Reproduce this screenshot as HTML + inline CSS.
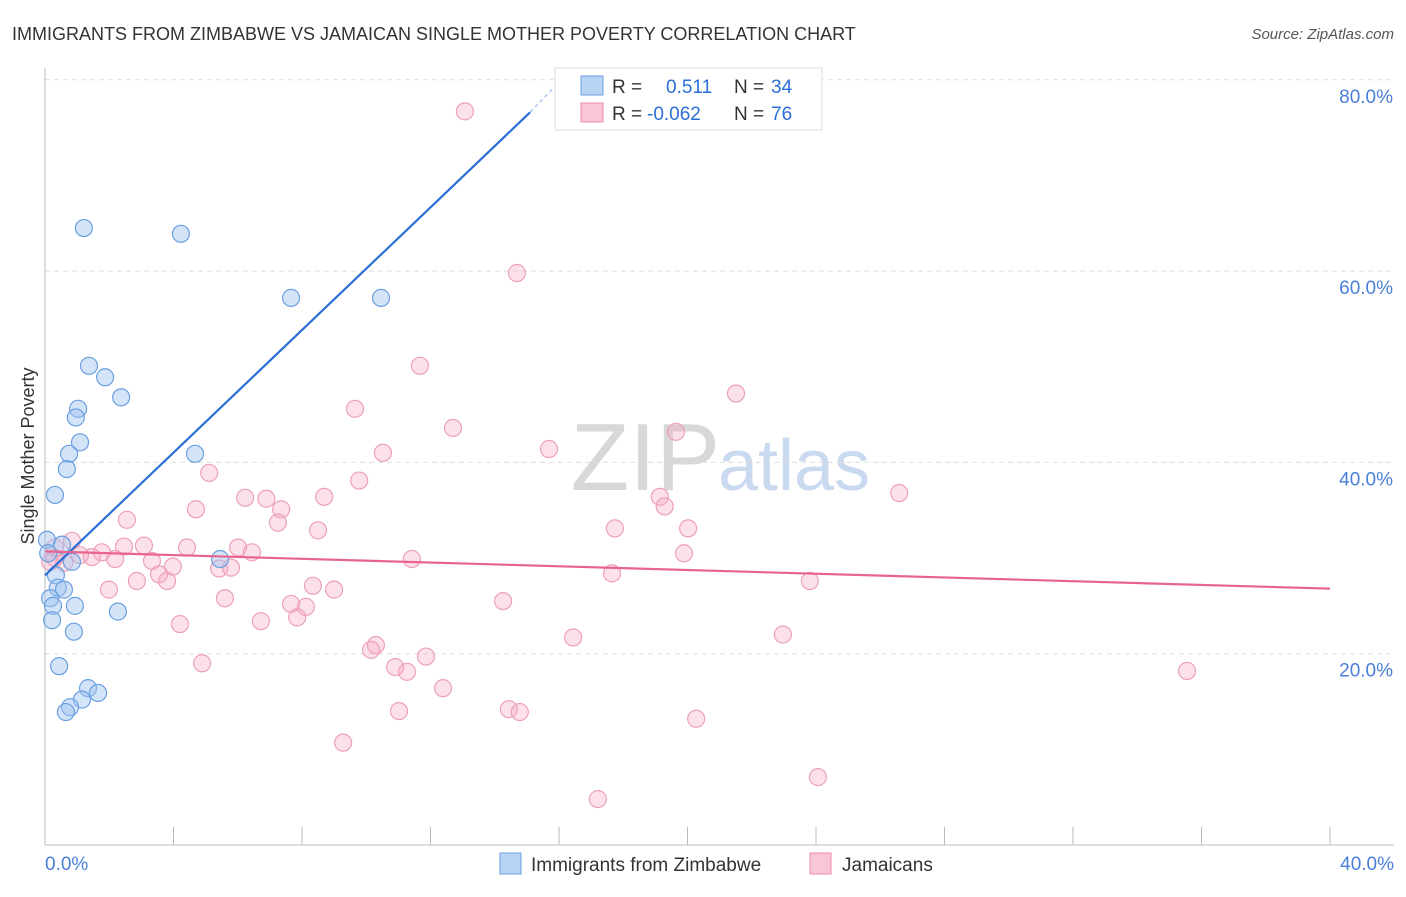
<!DOCTYPE html>
<html><head><meta charset="utf-8"><style>
body{margin:0;background:#fff;font-family:"Liberation Sans",sans-serif}
svg text{font-family:"Liberation Sans",sans-serif}
</style></head><body>
<svg id="chart" width="1406" height="892">
<text x="12" y="40" font-size="18" fill="#333">IMMIGRANTS FROM ZIMBABWE VS JAMAICAN SINGLE MOTHER POVERTY CORRELATION CHART</text>
<text x="1394" y="39" font-size="15" fill="#555" font-style="italic" text-anchor="end">Source: ZipAtlas.com</text>
<text x="720" y="490" font-size="96" fill="#d8d8d8" font-family="Liberation Serif" text-anchor="end">ZIP</text>
<text x="718" y="490" font-size="72" fill="#c9d9ef">atlas</text>
<text transform="translate(34,456) rotate(-90)" font-size="18" fill="#333" text-anchor="middle">Single Mother Poverty</text>
<g id="grid"></g><g id="pts"></g><g id="lines"></g>
<g>
<rect x="555" y="68" width="267" height="62" fill="#fff" stroke="#ddd"/>
<rect x="581" y="76" width="22" height="19" fill="#b9d3f5" stroke="#6a9fe0"/>
<rect x="581" y="103" width="22" height="19" fill="#f9c6d6" stroke="#ec8aaa"/>
<text x="612" y="93" font-size="19" fill="#333">R = <tspan x="666" fill="#2b6fd6">0.511</tspan><tspan x="734" fill="#333">N = </tspan><tspan x="771" fill="#2b6fd6">34</tspan></text>
<text x="612" y="120" font-size="19" fill="#333">R = <tspan x="647" fill="#2b6fd6">-0.062</tspan><tspan x="734" fill="#333">N = </tspan><tspan x="771" fill="#2b6fd6">76</tspan></text>
</g>
<g>
<rect x="500" y="853" width="21" height="21" fill="#b9d3f5" stroke="#6a9fe0"/>
<text x="531" y="871" font-size="19" fill="#333">Immigrants from Zimbabwe</text>
<rect x="810" y="853" width="21" height="21" fill="#f9c6d6" stroke="#ec8aaa"/>
<text x="842" y="871" font-size="19" fill="#333">Jamaicans</text>
</g>
</svg>
<script>
const yTicks=[20,40,60,80];
const xTickLabels=["0.0%","40.0%"];
const blueX=[1.21,4.23,7.66,10.46,1.37,1.87,2.37,1.03,0.96,1.09,0.75,0.68,4.67,0.31,0.06,0.53,0.84,5.45,0.34,0.40,0.59,0.16,0.25,0.93,0.22,2.27,0.90,0.44,1.34,1.65,1.15,0.78,0.65,0.1];
const blueY=[64.5,63.9,57.2,57.2,50.1,48.9,46.8,45.6,44.7,42.1,40.9,39.3,40.9,36.6,31.9,31.4,29.6,29.9,28.2,26.9,26.7,25.8,25.0,25.0,23.5,24.4,22.3,18.7,16.4,15.9,15.2,14.4,13.9,30.5];
const pinkX=[13.07,14.69,11.67,21.51,9.65,12.70,19.64,15.69,10.52,5.11,9.78,26.59,19.14,6.23,6.89,8.69,4.70,7.35,19.29,2.55,7.25,17.74,20.02,8.50,0.84,0.31,2.46,3.08,4.42,6.01,6.44,19.89,1.77,1.09,1.46,2.18,11.42,3.33,0.16,3.98,5.42,5.79,3.55,17.65,3.80,2.86,23.81,8.34,9.00,1.99,5.60,7.66,8.12,14.26,7.85,6.72,4.20,16.44,22.97,10.30,10.15,11.86,10.90,11.27,35.55,4.89,12.39,14.44,14.78,11.02,20.27,9.28,24.06,17.21,0.3,0.6];
const pinkY=[76.7,59.8,50.1,47.2,45.6,43.6,43.2,41.4,41.0,38.9,38.1,36.8,36.4,36.3,36.2,36.4,35.1,35.1,35.4,34.0,33.7,33.1,33.1,32.9,31.8,31.1,31.2,31.3,31.1,31.1,30.6,30.5,30.6,30.3,30.1,29.9,29.9,29.7,29.6,29.1,28.9,29.0,28.3,28.4,27.6,27.6,27.6,27.1,26.7,26.7,25.8,25.2,24.9,25.5,23.8,23.4,23.1,21.7,22.0,20.9,20.4,19.7,18.6,18.1,18.2,19.0,16.4,14.2,13.9,14.0,13.2,10.7,7.1,4.8,30.0,29.5];
const blueTrend=[[0,28.2],[15.1,76.6]];
const blueTrendExt=[[15.1,76.6],[15.9,79.4]];
const pinkTrend=[[0,30.7],[40,26.8]];
const NS="http://www.w3.org/2000/svg";
const X=v=>45+v/40*1285, Y=v=>845-v/20*191.3;
function mk(tag,attrs,parent){const e=document.createElementNS(NS,tag);for(const k in attrs)e.setAttribute(k,attrs[k]);document.getElementById(parent).appendChild(e);return e;}
yTicks.forEach(t=>{
 const l=mk('line',{x1:45,x2:1394,y1:Y(t),y2:Y(t),stroke:'#ddd','stroke-dasharray':'5,4'},'grid');
 
 
 const tx=mk('text',{x:1393,y:Y(t)+23,'font-size':19,fill:'#4a7fd8','text-anchor':'end'},'grid');tx.textContent=t.toFixed(1)+'%';
 
 
});
const ax=mk('line',{x1:45,x2:45,y1:68,y2:845,stroke:'#bbb'},'grid');


const bx=mk('line',{x1:45,x2:1394,y1:845,y2:845,stroke:'#bbb'},'grid');


for(let i=0;i<=10;i++){const tk=mk('line',{x1:X(i*4),x2:X(i*4),y1:827,y2:845,stroke:'#bbb'},'grid');
 
 }
[[0,'start',45],[40,'end',1394]].forEach((d,i)=>{const t=mk('text',{x:d[2],y:870,'font-size':19,fill:'#4a7fd8','text-anchor':d[1]},'grid');t.textContent=xTickLabels[i];
 
 });
pinkX.forEach((v,i)=>{const c=mk('circle',{cx:X(v),cy:Y(pinkY[i]),r:8.5,fill:'rgba(246,168,194,0.35)',stroke:'#eca0ba','stroke-width':1.2},'pts');
 
 });
blueX.forEach((v,i)=>{const c=mk('circle',{cx:X(v),cy:Y(blueY[i]),r:8.5,fill:'rgba(160,196,240,0.45)',stroke:'#6a9fe0','stroke-width':1.2},'pts');
 
 });
const bl=mk('line',{x1:X(blueTrend[0][0]),y1:Y(blueTrend[0][1]),x2:X(blueTrend[1][0]),y2:Y(blueTrend[1][1]),stroke:'#2b6fd6','stroke-width':2.2},'lines');


const be=mk('line',{x1:X(blueTrendExt[0][0]),y1:Y(blueTrendExt[0][1]),x2:X(blueTrendExt[1][0]),y2:Y(blueTrendExt[1][1]),stroke:'#9cc0ee','stroke-width':1.2,'stroke-dasharray':'4,3'},'lines');


const pl=mk('line',{x1:X(pinkTrend[0][0]),y1:Y(pinkTrend[0][1]),x2:X(pinkTrend[1][0]),y2:Y(pinkTrend[1][1]),stroke:'#e8648f','stroke-width':2.2},'lines');


</script>
</body></html>
